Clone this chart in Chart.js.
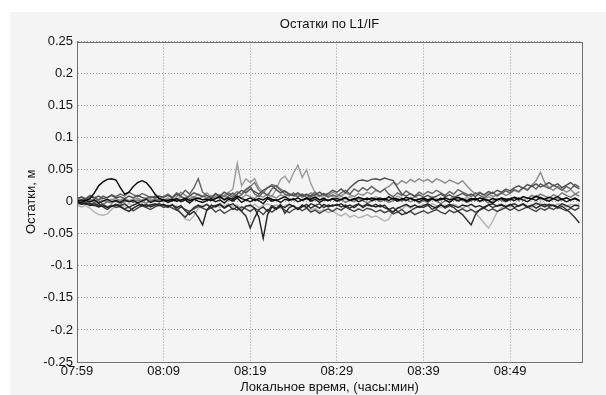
<!DOCTYPE html>
<html>
<head>
<meta charset="utf-8">
<script src="https://cdn.jsdelivr.net/npm/chart.js@4/dist/chart.umd.min.js"></script>
<style>
  html, body { margin: 0; padding: 0; background: #ffffff; }
  #wrap { position: relative; width: 606px; height: 395px; }
  canvas { display: block; }
</style>
</head>
<body>
<div id="wrap"><canvas id="c" width="606" height="395"></canvas></div>
<script>
// ---- data (minutes after 07:59, residuals in millimetres) ----
const timesMin = [
  0,0.5,1,1.5,2,2.5,3,3.5,4,4.5, 5,5.5,6,6.5,7,7.5,8,8.5,9,9.5,
  10,10.5,11,11.5,12,12.5,13,13.5,14,14.5, 15,15.5,16,16.5,17,17.5,18,18.5,19,19.5,
  20,20.5,21,21.5,22,22.5,23,23.5,24,24.5, 25,25.5,26,26.5,27,27.5,28,28.5,29,29.5,
  30,30.5,31,31.5,32,32.5,33,33.5,34,34.5, 35,35.5,36,36.5,37,37.5,38,38.5,39,39.5,
  40,40.5,41,41.5,42,42.5,43,43.5,44,44.5, 45,45.5,46,46.5,47,47.5,48,48.5,49,49.5,
  50,50.5,51,51.5,52,52.5,53,53.5,54,54.5, 55,55.5,56,56.5,57,57.5,58
];
const xTickValues = [0, 10, 20, 30, 40, 50];
const xTickLabels = ["07:59", "08:09", "08:19", "08:29", "08:39", "08:49"];
const yTickValues = [-0.25,-0.2,-0.15,-0.1,-0.05,0,0.05,0.1,0.15,0.2,0.25];
const yTickLabels = ["-0.25","-0.2","-0.15","-0.1","-0.05","0","0.05","0.1","0.15","0.2","0.25"];

const res01_mm = [2,3,2,5,14,25,31,35,36,34, 22,12,15,24,30,33,30,22,12,5,
  3,2,4,1,3,5,2,4,6,3, 4,2,5,8,3,6,4,9,5,3, 6,2,5,3,7,4,2,5,8,4, 3,6,2,5,4,7,3,5,2,4,
  5,3,6,2,4,7,5,3,6,4, 3,5,2,6,4,3,7,5,2,4, 6,3,5,2,4,6,3,5,7,4, 2,5,3,6,4,2,5,3,6,4,
  5,7,4,8,6,5,9,6,4,7, 5,8,4,6,3,5,2];
const res02_mm = [-2,-4,-3,-6,-5,-8,-6,-9,-7,-5, -8,-12,-15,-10,-6,-4,-7,-5,-3,-6,
  -4,-7,-5,-9,-6,-14,-20,-15,-24,-36, -12,-5,-8,-4,-10,-6,-3,-9,-14,-7,
  -5,-10,-24,-57,-20,-8,-12,-6,-9,-4, -7,-12,-5,-9,-3,-6,-10,-4,-8,-5,
  -6,-3,-8,-5,-9,-4,-7,-3,-6,-8, -5,-9,-12,-16,-10,-7,-4,-8,-5,-9,
  -6,-3,-7,-10,-5,-8,-4,-6,-9,-5, -7,-4,-8,-6,-10,-5,-3,-7,-5,-8,
  -4,-9,-6,-3,-8,-5,-10,-6,-4,-7, -5,-8,-3,-6,-9,-5,-7];
const res03_mm = [5,7,4,8,6,9,5,7,10,6, 8,5,9,6,10,7,5,8,6,9,
  7,10,6,12,8,5,9,14,11,8, 10,6,13,9,15,11,7,12,18,14, 20,16,12,18,22,25,19,14,17,12,
  10,14,9,12,8,11,15,10,13,18, 15,20,14,22,28,33,34,32,35,36, 34,37,35,33,22,12,9,13,8,11,
  7,10,6,9,12,8,11,7,10,13, 9,12,8,14,11,16,13,18,15,20, 17,22,25,21,27,24,28,23,26,30,
  25,28,22,26,30,24,20];
const res04_mm = [0,2,-1,3,1,4,2,0,3,5, 2,4,1,3,6,2,5,3,1,4,
  3,6,2,8,15,10,5,7,4,9, 6,3,8,5,10,7,4,9,6,11, 8,5,10,7,12,9,6,11,8,13,
  10,7,12,9,14,11,8,13,10,15, 12,9,14,11,8,13,10,15,12,18, 15,20,24,30,27,33,29,35,31,36,
  32,35,30,36,33,29,34,31,28,33, 25,18,12,15,9,13,8,11,14,10, 13,18,15,22,19,26,33,46,30,22,
  18,24,20,15,19,12,16];
const res05_mm = [-5,-8,-6,-10,-16,-20,-21,-19,-12,-6, -4,-7,-3,-6,-2,-5,-8,-4,-6,-3,
  -7,-5,-9,-6,-18,-27,-29,-22,-10,-6, -4,-8,-5,-9,-6,-3,-7,-5,-10,-6,
  -8,-4,-9,-6,-3,-7,-5,-10,-6,-4, -7,-11,-6,-9,-13,-10,-15,-12,-17,-14,
  -19,-22,-18,-24,-21,-25,-23,-20,-24,-22, -26,-30,-27,-15,-9,-12,-6,-10,-5,-8,
  -4,-7,-3,-6,-9,-5,-8,-4,-7,-10, -6,-12,-18,-25,-33,-41,-30,-16,-9,-5,
  -8,-4,-7,-3,-6,-9,-5,-2,-6,-4, -7,-3,-5,-8,-4,-6,-3];
const res06_mm = [3,1,4,2,5,3,6,2,4,1, 3,5,2,4,1,3,6,2,5,3,
  4,2,6,3,8,5,10,7,12,9, 14,8,12,6,10,15,20,60,25,36, 30,36,22,15,10,8,20,35,40,30,
  45,57,38,50,28,14,10,6,12,8, 5,9,4,8,3,7,2,6,4,8, 5,3,7,4,9,6,2,5,8,4,
  6,3,8,5,2,7,4,9,5,3, 7,4,2,6,3,8,5,2,6,4, 3,7,5,2,6,4,8,3,5,2, 4,6,3,7,2,5,3];
const res07_mm = [-3,-1,-4,-2,-6,-3,-8,-12,-7,-4, -6,-3,-9,-5,-2,-7,-4,-8,-5,-3,
  -6,-9,-4,-12,-18,-24,-16,-9,-5,-8, -4,-10,-6,-3,-9,-5,-12,-8,-15,-22,
  -41,-25,-12,-8,-15,-6,-10,-4,-18,-9, -6,-12,-8,-4,-10,-6,-3,-9,-5,-7,
  -4,-8,-5,-10,-6,-3,-9,-5,-7,-4, -8,-5,-12,-9,-15,-20,-18,-14,-10,-7,
  -9,-5,-12,-8,-4,-10,-6,-9,-15,-20, -28,-36,-20,-12,-8,-5,-9,-6,-4,-8,
  -5,-3,-7,-4,-9,-6,-2,-5,-8,-4, -6,-10,-7,-12,-18,-25,-33];
const res08_mm = [4,8,5,10,7,3,9,6,11,8, 12,9,15,11,8,13,10,6,9,5,
  8,12,7,14,10,18,12,22,36,15, 10,6,12,8,4,9,14,7,11,18, 24,12,8,15,10,20,25,18,12,9,
  14,8,12,6,10,15,9,13,7,11, 8,14,18,12,20,16,22,18,24,19, 15,20,12,8,14,10,17,12,9,15,
  11,16,13,18,14,10,16,12,19,15, 12,8,14,10,6,11,15,9,13,17, 14,19,16,22,18,25,20,28,24,21,
  26,22,18,24,20,27,23];
const res09_mm = [0,-3,-1,-5,-2,-6,-4,-8,-5,-9, -7,-11,-8,-14,-10,-6,-9,-12,-8,-5,
  -9,-6,-10,-13,-8,-12,-15,-11,-7,-10, -13,-9,-16,-12,-18,-14,-10,-13,-8,-11,
  -15,-10,-14,-20,-12,-16,-11,-8,-13,-17, -12,-9,-14,-10,-16,-13,-18,-14,-11,-15,
  -10,-13,-8,-12,-15,-11,-14,-10,-12,-16, -13,-17,-14,-19,-16,-12,-18,-15,-20,-17,
  -14,-18,-15,-12,-16,-19,-13,-17,-14,-11, -15,-12,-16,-13,-10,-14,-11,-15,-12,-9,
  -13,-10,-14,-11,-8,-12,-15,-10,-13,-9, -12,-8,-11,-14,-10,-13,-9];
const res10_mm = [1,-1,2,0,3,-2,1,4,0,2, -1,3,0,2,-2,1,4,-1,2,0,
  3,-1,2,5,0,3,-2,4,1,-1, 2,5,0,3,-2,4,1,6,-1,3, 0,4,2,-3,5,1,3,-1,4,2,
  5,0,3,6,1,4,-1,3,2,5, 1,4,7,2,5,0,3,6,2,4, 6,3,8,4,1,5,2,6,3,0,
  4,1,5,2,6,3,-1,4,2,5, 0,3,6,1,4,2,-2,3,5,1, 4,2,6,3,0,5,2,7,3,1, 5,2,4,0,3,6,1];
const res11_mm = [-2,0,-3,1,-1,2,-4,0,-2,1, -3,0,2,-1,3,0,-2,1,4,2,
  0,3,1,5,2,6,4,8,5,3, 6,9,5,11,8,14,10,16,12,20, 24,30,18,14,22,27,25,20,16,12,
  9,13,7,11,5,8,3,6,2,5, 1,4,-1,3,0,5,2,-2,1,4, 0,3,-1,2,5,1,4,0,3,-2,
  2,-1,4,1,-3,2,0,5,1,3, -1,2,4,0,3,-2,1,5,2,0, 3,6,2,8,5,10,7,12,9,6, 11,8,14,10,7,12,9];

const seriesList = [res01_mm, res10_mm, res02_mm, res07_mm, res09_mm, res03_mm,
                    res08_mm, res11_mm, res04_mm, res06_mm, res05_mm];
const seriesColors = ["#000000", "#121212", "#222222", "#303030", "#444444", "#4e4e4e",
                      "#626262", "#767676", "#8a8a8a", "#9a9a9a", "#b2b2b2"];

const datasets = seriesList.map((arr, k) => ({
  data: arr.map((mm, i) => ({ x: timesMin[i], y: mm / 1000 })),
  borderColor: seriesColors[k],
  borderWidth: 1.4,
  pointRadius: 0,
  tension: 0,
  fill: false
}));

const FONT = "'Liberation Sans', Arial, Helvetica, sans-serif";

const figureBg = {
  id: 'figureBg',
  beforeDraw(chart) {
    const ctx = chart.ctx;
    ctx.save();
    ctx.fillStyle = '#ffffff';
    ctx.fillRect(0, 0, chart.width, chart.height);
    ctx.fillStyle = '#f4f4f4';
    ctx.fillRect(10, 12, chart.width - 10, chart.height - 12);
    ctx.restore();
  },
  afterDatasetsDraw(chart) {
    const a = chart.chartArea, ctx = chart.ctx;
    ctx.save();
    ctx.strokeStyle = '#707070';
    ctx.lineWidth = 1;
    ctx.strokeRect(Math.round(a.left) + 0.5, Math.round(a.top) + 0.5,
                   Math.round(a.right - a.left), Math.round(a.bottom - a.top));
    ctx.restore();
  }
};

new Chart(document.getElementById('c'), {
  type: 'line',
  data: { datasets },
  plugins: [figureBg],
  options: {
    responsive: false,
    animation: false,
    layout: { padding: { left: 0, right: 24, top: 0, bottom: 0 } },
    plugins: {
      legend: { display: false },
      tooltip: { enabled: false },
      title: {
        display: true,
        fullSize: false,
        text: 'Остатки по L1/IF',
        color: '#111111',
        font: { family: FONT, size: 13, weight: 'normal' },
        padding: { top: 17, bottom: 9 }
      }
    },
    scales: {
      x: {
        type: 'linear',
        min: 0,
        max: 58.3,
        afterBuildTicks(scale) { scale.ticks = xTickValues.map(v => ({ value: v })); },
        afterFit(scale) { scale.height = 33; },
        ticks: {
          callback: (v, i) => xTickLabels[i],
          color: '#111111',
          font: { family: FONT, size: 13 },
          padding: 2,
          maxRotation: 0
        },
        grid: { color: '#9a9a9a', drawTicks: false, lineWidth: 1 },
        border: { display: true, color: '#707070', dash: [1, 2] },
        title: {
          display: true,
          text: 'Локальное время, (часы:мин)',
          color: '#111111',
          font: { family: FONT, size: 13 },
          padding: { top: 0, bottom: 0 }
        }
      },
      y: {
        type: 'linear',
        min: -0.25,
        max: 0.25,
        afterBuildTicks(scale) { scale.ticks = yTickValues.map(v => ({ value: v })); },
        afterFit(scale) { scale.width = 77; },
        ticks: {
          callback: (v, i) => yTickLabels[i],
          color: '#111111',
          font: { family: FONT, size: 13 },
          padding: 4
        },
        grid: { color: '#9a9a9a', drawTicks: false, lineWidth: 1 },
        border: { display: true, color: '#707070', dash: [1, 2] },
        title: {
          display: true,
          text: 'Остатки, м',
          color: '#111111',
          font: { family: FONT, size: 13 },
          padding: { top: 24, bottom: 0 }
        }
      }
    }
  }
});
</script>
</body>
</html>
